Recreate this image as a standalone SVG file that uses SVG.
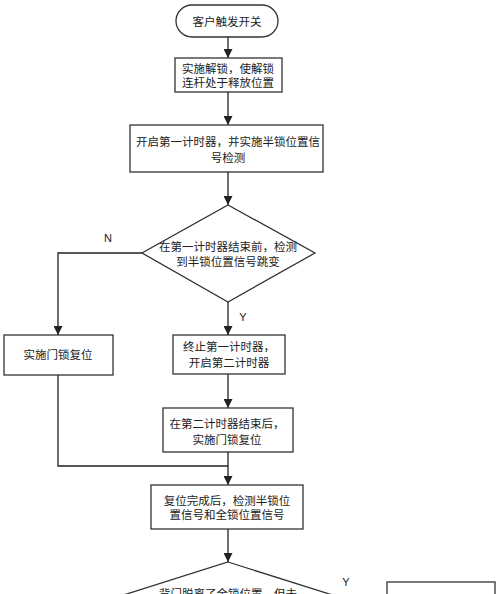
<svg xmlns="http://www.w3.org/2000/svg" width="500" height="594" viewBox="0 0 500 594">
<style>
.box{fill:#fff;stroke:#333;stroke-width:1.3}
.t{font-family:"Liberation Serif","Noto Sans CJK SC",serif;font-size:11.5px;fill:#222;text-anchor:middle}
.lbl{font-family:"Liberation Sans",sans-serif;font-size:11px;fill:#222;text-anchor:middle}
.c{fill:none;stroke:#222;stroke-width:1.3}
</style>
<defs>
<marker id="ah" markerUnits="userSpaceOnUse" markerWidth="9" markerHeight="9" viewBox="0 0 9 9" refX="9" refY="4.5" orient="auto">
<path d="M0,0 L9,4.5 L0,9 Z" fill="#222"/>
</marker>
</defs>
<rect width="500" height="594" fill="#fff"/>
<g id="connectors">
<path class="c" d="M228,37 V58" marker-end="url(#ah)"/>
<path class="c" d="M228,92 V125" marker-end="url(#ah)"/>
<path class="c" d="M228,172 V205" marker-end="url(#ah)"/>
<path class="c" d="M228,302 V335" marker-end="url(#ah)"/>
<path class="c" d="M142,253 H58 V335" marker-end="url(#ah)"/>
<path class="c" d="M228,374 V408" marker-end="url(#ah)"/>
<path class="c" d="M228,452 V485" marker-end="url(#ah)"/>
<path class="c" d="M58,375 V466 H228"/>
<path class="c" d="M228,529 V562" marker-end="url(#ah)"/>
<path class="c" d="M380,610 H387"/>
<text class="lbl" x="108" y="242">N</text>
<text class="lbl" x="243" y="321">Y</text>
<text class="lbl" x="346" y="586">Y</text>
</g>
<g id="start">
<rect class="box" x="176" y="5" width="102" height="32" rx="16"/>
<text class="t" x="227" y="26">客户触发开关</text>
</g>
<g id="unlock">
<rect class="box" x="175" y="58" width="107" height="34"/>
<text class="t" x="228" y="73">实施解锁，使解锁</text>
<text class="t" x="228" y="87">连杆处于释放位置</text>
</g>
<g id="timer1">
<rect class="box" x="130" y="125" width="193" height="47"/>
<text class="t" x="228" y="146">开启第一计时器，并实施半锁位置信</text>
<text class="t" x="228" y="162">号检测</text>
</g>
<g id="decision1">
<polygon class="box" points="228,205 315,253 228,302 142,253"/>
<text class="t" x="228" y="251">在第一计时器结束前，检测</text>
<text class="t" x="228" y="266">到半锁位置信号跳变</text>
</g>
<g id="reset-left">
<rect class="box" x="4" y="335" width="109" height="40"/>
<text class="t" x="58" y="359">实施门锁复位</text>
</g>
<g id="timer2">
<rect class="box" x="173" y="335" width="112" height="39"/>
<text class="t" x="229" y="351">终止第一计时器，</text>
<text class="t" x="229" y="367">开启第二计时器</text>
</g>
<g id="reset-right">
<rect class="box" x="163" y="408" width="130" height="44"/>
<text class="t" x="227" y="428">在第二计时器结束后，</text>
<text class="t" x="227" y="444">实施门锁复位</text>
</g>
<g id="detect">
<rect class="box" x="151" y="485" width="152" height="44"/>
<text class="t" x="227" y="505">复位完成后，检测半锁位</text>
<text class="t" x="227" y="519">置信号和全锁位置信号</text>
</g>
<g id="decision2">
<polygon class="box" points="228,562 380,610 228,658 76,610"/>
<text class="t" x="228" y="598">背门脱离了全锁位置，但未</text>
</g>
<g id="right-box">
<rect class="box" x="387" y="582" width="108" height="40"/>
</g>
</svg>
